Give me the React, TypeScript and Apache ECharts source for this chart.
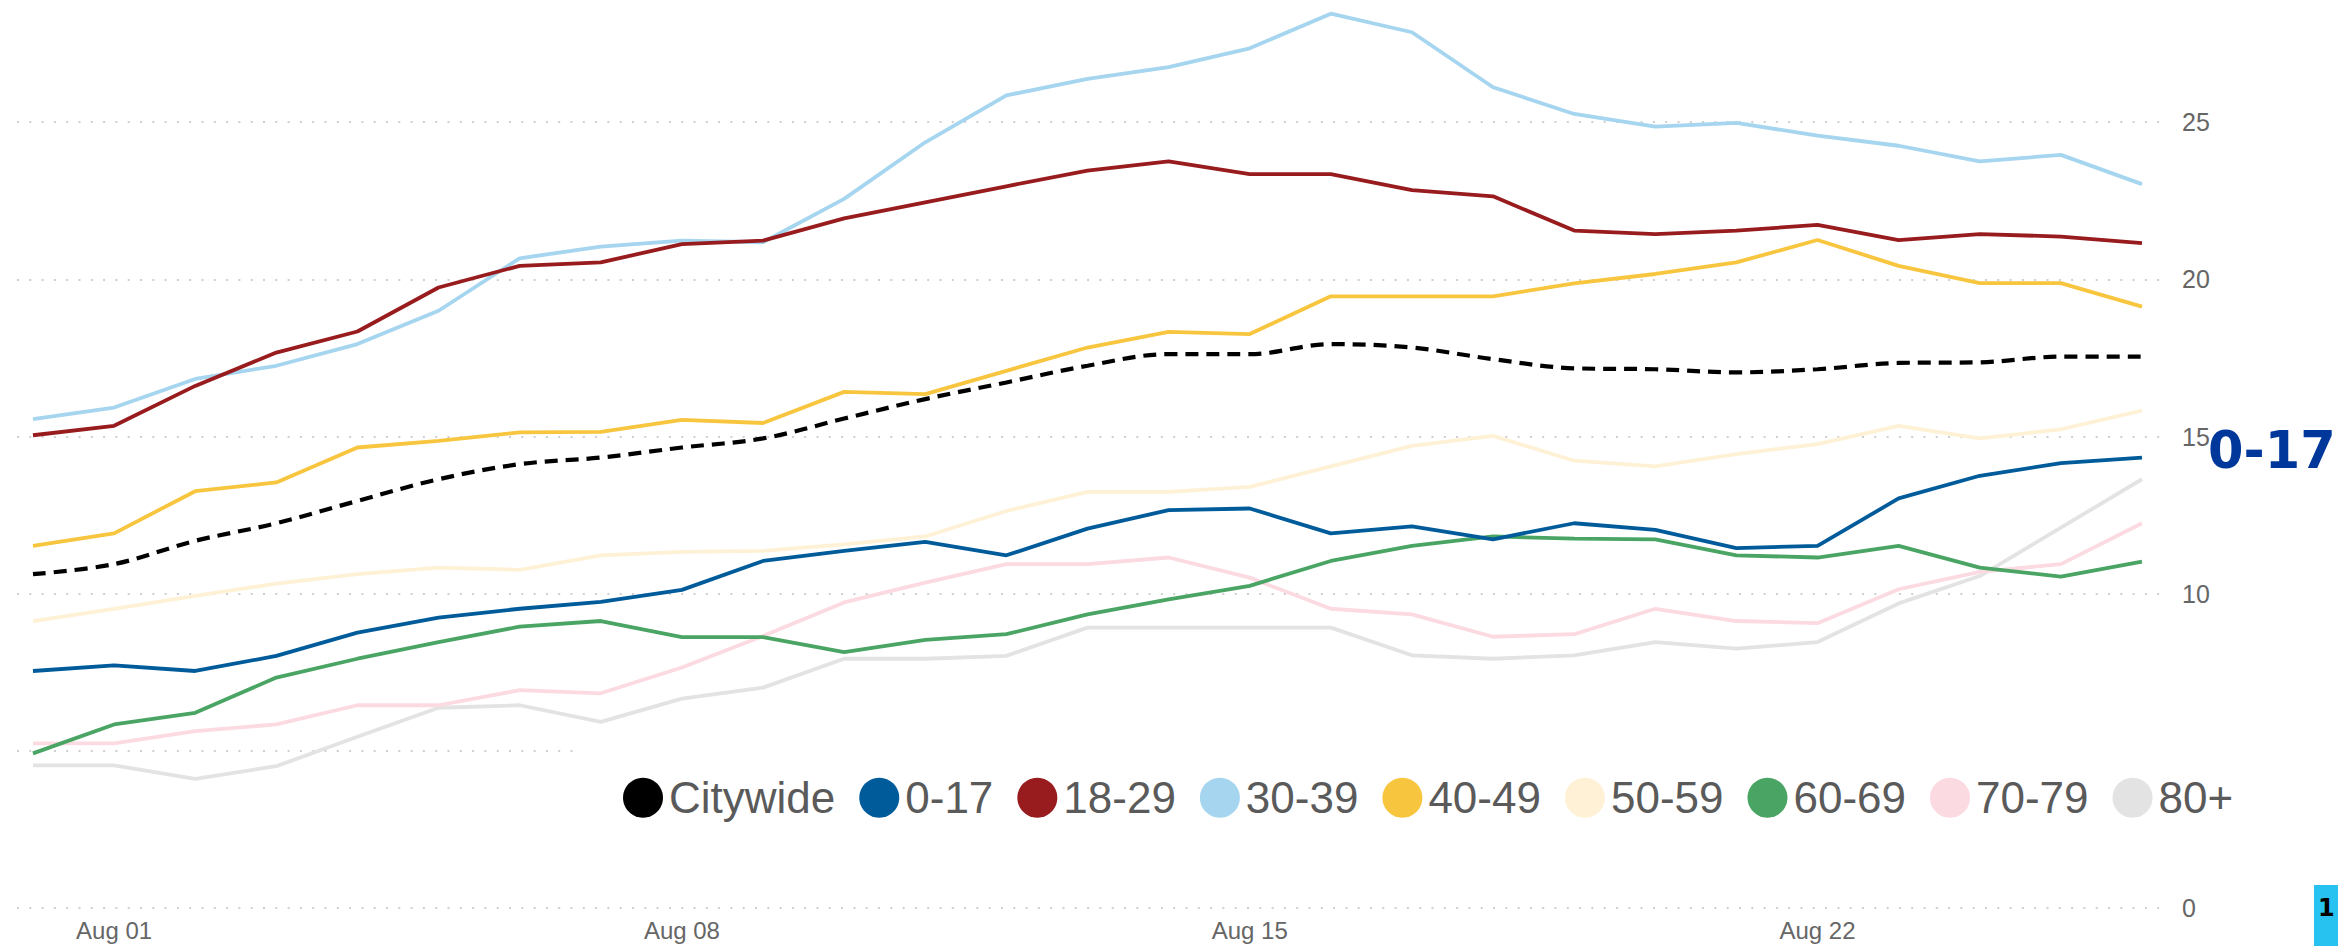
import React, { useEffect, useRef } from "react";
import * as echarts from "echarts";

const days = [
  "Jul 31", "Aug 01", "Aug 02", "Aug 03", "Aug 04", "Aug 05", "Aug 06", "Aug 07", "Aug 08",
  "Aug 09", "Aug 10", "Aug 11", "Aug 12", "Aug 13", "Aug 14", "Aug 15", "Aug 16", "Aug 17",
  "Aug 18", "Aug 19", "Aug 20", "Aug 21", "Aug 22", "Aug 23", "Aug 24", "Aug 25", "Aug 26",
];
const labelDays = ["Aug 01", "Aug 08", "Aug 15", "Aug 22"];

const citywide = [10.62, 10.94, 11.68, 12.24, 12.95, 13.64, 14.12, 14.33, 14.65, 14.94, 15.57, 16.19, 16.72, 17.25, 17.62, 17.62, 17.94, 17.83, 17.46, 17.17, 17.14, 17.04, 17.14, 17.34, 17.36, 17.54, 17.54];
const age0to17 = [7.54, 7.72, 7.54, 8.02, 8.76, 9.24, 9.52, 9.74, 10.12, 11.04, 11.36, 11.65, 11.22, 12.07, 12.66, 12.71, 11.92, 12.14, 11.73, 12.24, 12.03, 11.45, 11.52, 13.03, 13.75, 14.15, 14.33];
const age18to29 = [15.04, 15.34, 16.61, 17.67, 18.34, 19.74, 20.43, 20.54, 21.12, 21.23, 21.94, 22.45, 22.96, 23.46, 23.75, 23.35, 23.35, 22.84, 22.64, 21.55, 21.44, 21.55, 21.73, 21.25, 21.44, 21.36, 21.15];
const age30to39 = [15.55, 15.92, 16.83, 17.25, 17.94, 19.0, 20.67, 21.04, 21.23, 21.18, 22.56, 24.36, 25.85, 26.38, 26.75, 27.35, 28.45, 27.86, 26.11, 25.26, 24.86, 24.98, 24.57, 24.25, 23.75, 23.96, 23.03];
const age40to49 = [11.52, 11.92, 13.26, 13.54, 14.65, 14.86, 15.13, 15.15, 15.53, 15.43, 16.42, 16.35, 17.09, 17.83, 18.33, 18.26, 19.46, 19.46, 19.46, 19.87, 20.17, 20.54, 21.25, 20.43, 19.88, 19.88, 19.13];
const age50to59 = [9.13, 9.52, 9.93, 10.32, 10.62, 10.83, 10.76, 11.22, 11.33, 11.36, 11.57, 11.82, 12.63, 13.24, 13.24, 13.4, 14.05, 14.7, 15.02, 14.23, 14.05, 14.44, 14.76, 15.34, 14.94, 15.23, 15.82];
const age60to69 = [4.92, 5.84, 6.21, 7.33, 7.93, 8.46, 8.95, 9.13, 8.62, 8.62, 8.14, 8.53, 8.71, 9.34, 9.82, 10.25, 11.04, 11.52, 11.82, 11.75, 11.73, 11.22, 11.15, 11.52, 10.83, 10.54, 11.02];
const age70to79 = [5.24, 5.24, 5.63, 5.84, 6.45, 6.45, 6.93, 6.83, 7.65, 8.65, 9.72, 10.35, 10.94, 10.94, 11.15, 10.51, 9.52, 9.34, 8.63, 8.71, 9.52, 9.13, 9.06, 10.14, 10.69, 10.94, 12.24];
const age80plus = [4.54, 4.54, 4.11, 4.51, 5.45, 6.37, 6.45, 5.92, 6.66, 7.01, 7.93, 7.93, 8.02, 8.92, 8.92, 8.92, 8.92, 8.04, 7.93, 8.04, 8.46, 8.25, 8.46, 9.69, 10.56, 12.1, 13.64];

const seriesNames = ["Citywide", "0-17", "18-29", "30-39", "40-49", "50-59", "60-69", "70-79", "80+"];
const seriesValues = [citywide, age0to17, age18to29, age30to39, age40to49, age50to59, age60to69, age70to79, age80plus];
const seriesColors = ["#000000", "#005B9A", "#981B1E", "#A5D5EF", "#F8C53F", "#FFF1D6", "#4AA564", "#FCDAE1", "#E3E3E3"];
const highlighted = "0-17";

const FONT = "Liberation Sans, Arial, sans-serif";

export default function App() {
  const ref = useRef<HTMLDivElement>(null);
  useEffect(() => {
    document.body.style.margin = "0";
    const chart = echarts.init(ref.current as HTMLDivElement, null, { renderer: "svg" });

    const drawOrder = [8, 7, 6, 5, 4, 3, 2, 1, 0];
    const series = drawOrder.map((idx) => {
      const name = seriesNames[idx];
      const isCity = name === "Citywide";
      const isHi = name === highlighted;
      return {
        name,
        type: "line",
        data: seriesValues[idx].map((v, i) => [i, v]),
        symbol: "none",
        smooth: isCity ? 0.35 : false,
        z: isCity ? 5 : isHi ? 4 : 3,
        itemStyle: { color: seriesColors[idx] },
        lineStyle: {
          color: seriesColors[idx],
          width: isCity ? 4.2 : 3.8,
          type: isCity ? [13, 8] : "solid",
        },
        endLabel: isHi
          ? {
              show: true,
              formatter: name,
              distance: 66,
              offset: [0, -7],
              fontSize: 51,
              fontWeight: "bold",
              fontFamily: "DejaVu Sans",
              color: "#00379B",
            }
          : { show: false },
        emphasis: { disabled: true },
      };
    });

    const option = {
      animation: false,
      backgroundColor: "#ffffff",
      grid: { left: 17, right: 178, top: -35, bottom: 38, containLabel: false, outerBoundsMode: "none" },
      xAxis: {
        type: "value",
        min: -0.197,
        max: 26.222,
        axisLine: { show: false },
        axisTick: { show: false },
        splitLine: { show: false },
        axisLabel: {
          customValues: labelDays.map((d) => days.indexOf(d)),
          formatter: (v: number) => days[Math.round(v)] ?? "",
          fontSize: 24,
          color: "#666666",
          fontFamily: FONT,
          margin: 10,
        },
      },
      yAxis: {
        type: "value",
        position: "right",
        min: 0,
        max: 30,
        interval: 5,
        axisLine: { show: false },
        axisTick: { show: false },
        axisLabel: { margin: 22, fontSize: 25, color: "#666666", fontFamily: FONT, showMaxLabel: false },
        splitLine: { lineStyle: { color: "#cfcfcf", width: 2, type: [2, 10.3] } },
      },
      legend: {
        data: seriesNames.map((n, i) => ({ name: n, icon: "circle", itemStyle: { color: seriesColors[i] } })),
        orient: "horizontal",
        left: 575,
        top: 730.7,
        itemWidth: 42,
        itemHeight: 40,
        itemGap: 24,
        padding: [45, 47, 45, 48],
        backgroundColor: "#ffffff",
        selectedMode: false,
        itemStyle: { borderWidth: 0 },
        textStyle: { fontSize: 44, color: "#5a5a5a", fontFamily: FONT, lineHeight: 40 },
      },
      graphic: [
        { type: "rect", shape: { x: 2314, y: 885, width: 24, height: 61 }, style: { fill: "#28C2F0" }, z: 10 },
        {
          type: "text",
          x: 2318,
          y: 896,
          style: { text: "1", fontSize: 24, fontWeight: "bold", fill: "#000000", fontFamily: "DejaVu Sans" },
          z: 11,
        },
      ],
      series,
    };
    chart.setOption(option as any);
    return () => chart.dispose();
  }, []);
  return <div ref={ref} style={{ width: 2338, height: 946 }} />;
}
